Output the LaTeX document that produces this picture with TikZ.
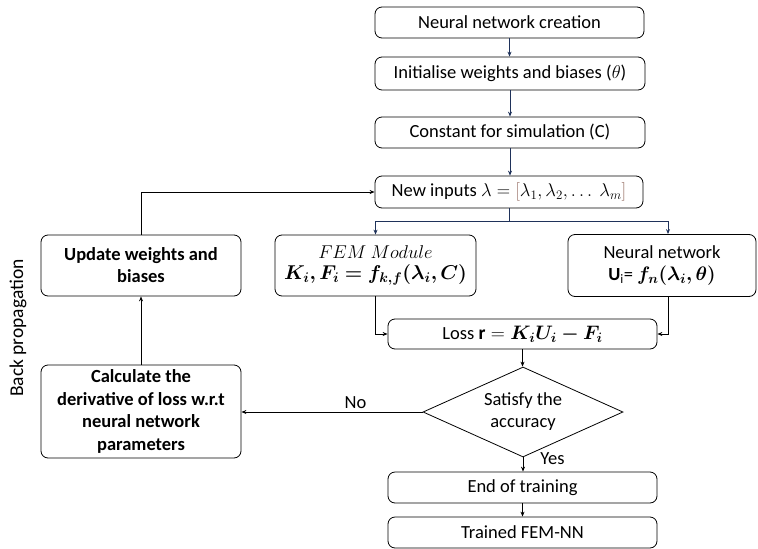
\RequirePackage{fix-cm}
\documentclass[tikz,border=0pt]{standalone}
\usepackage{amsmath,bm}
\usepackage{fontspec}
\setmainfont{Carlito}
\usetikzlibrary{shapes.geometric,arrows.meta,calc}
\definecolor{navy}{RGB}{31,50,90}
\definecolor{brk}{RGB}{150,110,100}
\newcommand{\femsize}{\fontsize{20}{24}\selectfont}
\begin{document}
\begin{tikzpicture}[x=1pt,y=-1pt,
  box/.style={draw,rounded corners=7pt,line width=0.8pt,align=center,inner sep=2pt,font=\fontsize{18.5}{22.5}\selectfont},
  arr/.style={-{Stealth[length=5pt,width=4pt]},line width=0.8pt},
  lbl/.style={font=\fontsize{18.5}{22}\selectfont,inner sep=1pt}]
\useasboundingbox (0,0) rectangle (758,549);
\node[box,minimum width=269pt,minimum height=31pt] (n1) at (509.5,22.5) {Neural network creation};
\node[box,minimum width=270pt,minimum height=33pt] (n2) at (510,73.5) {Initialise weights and biases ($\theta$)};
\node[box,minimum width=270pt,minimum height=31pt] (n3) at (510,132.5) {Constant for simulation (C)};
\node[box,minimum width=268pt,minimum height=32pt] (n4) at (509,192) {New inputs $\lambda = \textcolor{brk}{[}\lambda_1, \lambda_2, \ldots\ \lambda_m\textcolor{brk}{]}$};
\node[box,minimum width=201pt,minimum height=61pt] (fem) at (375.5,265.5) {$FEM\ Module$\\[-1pt] {\femsize$\boldsymbol{K_i, F_i = f_{k,f}(\lambda_i, C)}$}};
\node[box,minimum width=188pt,minimum height=62pt] (nn) at (662,265.5) {Neural network\\[0pt] {\bfseries U}\textsubscript{i}= {\fontsize{19.5}{23}\selectfont$\boldsymbol{f_n(\lambda_i, \theta)}$}};
\node[box,minimum width=269pt,minimum height=30pt] (loss) at (522.5,334) {Loss {\fontsize{19.5}{23}\selectfont$\mathbf{r} = \boldsymbol{K_i U_i - F_i}$}};
\node[draw,diamond,line width=0.8pt,minimum width=200pt,minimum height=90pt,inner sep=0pt,shape aspect=2.22,align=center,font=\fontsize{18.5}{22}\selectfont] (dec) at (523,412) {Satisfy the\\accuracy};
\node[box,minimum width=269pt,minimum height=31pt] (endt) at (522.5,487.5) {End of training};
\node[box,minimum width=269pt,minimum height=31pt] (trained) at (522.5,532.5) {Trained FEM-NN};
\node[box,minimum width=200pt,minimum height=61pt,font=\bfseries\fontsize{18.5}{22}\selectfont] (upd) at (141,265.5) {Update weights and\\biases};
\node[box,minimum width=200pt,minimum height=93pt,font=\bfseries\fontsize{18.5}{22.5}\selectfont] (calc) at (141,411.5) {Calculate the\\derivative of loss w.r.t\\neural network\\parameters};
\node[lbl,rotate=90,font=\fontsize{19.5}{22}\selectfont] (bp) at (18,328) {Back propagation};
% connectors
\draw[arr,navy] (n1.south) -- (n1.south |- n2.north);
\draw[arr,navy] (n2.south) -- (n2.south |- n3.north);
\draw[arr,navy] (n3.south) -- (n3.south |- n4.north);
\draw[navy,line width=0.8pt] (n4.south) -- ++(0,13) coordinate (br);
\draw[arr,navy] (br) -| (fem.north);
\draw[arr,navy] (br) -| ([xshift=6pt]nn.north);
\draw[arr] (fem.south) |- (loss.west);
\draw[arr] ([xshift=6pt]nn.south) |- (loss.east);
\draw[arr] (loss.south) -- (loss.south |- dec.north);
\draw[arr] (dec.south) -- (dec.south |- endt.north) node[lbl,pos=0.1,right=16pt] (yes) {Yes};
\draw[arr] (endt.south) -- (endt.south |- trained.north);
\draw[arr] (dec.west) -- (dec.west -| calc.east) node[lbl,pos=0.37,above=2pt] (no) {No};
\draw[arr] (calc.north) -- (calc.north |- upd.south);
\draw[arr] (upd.north) |- (n4.west);
\end{tikzpicture}
\end{document}
